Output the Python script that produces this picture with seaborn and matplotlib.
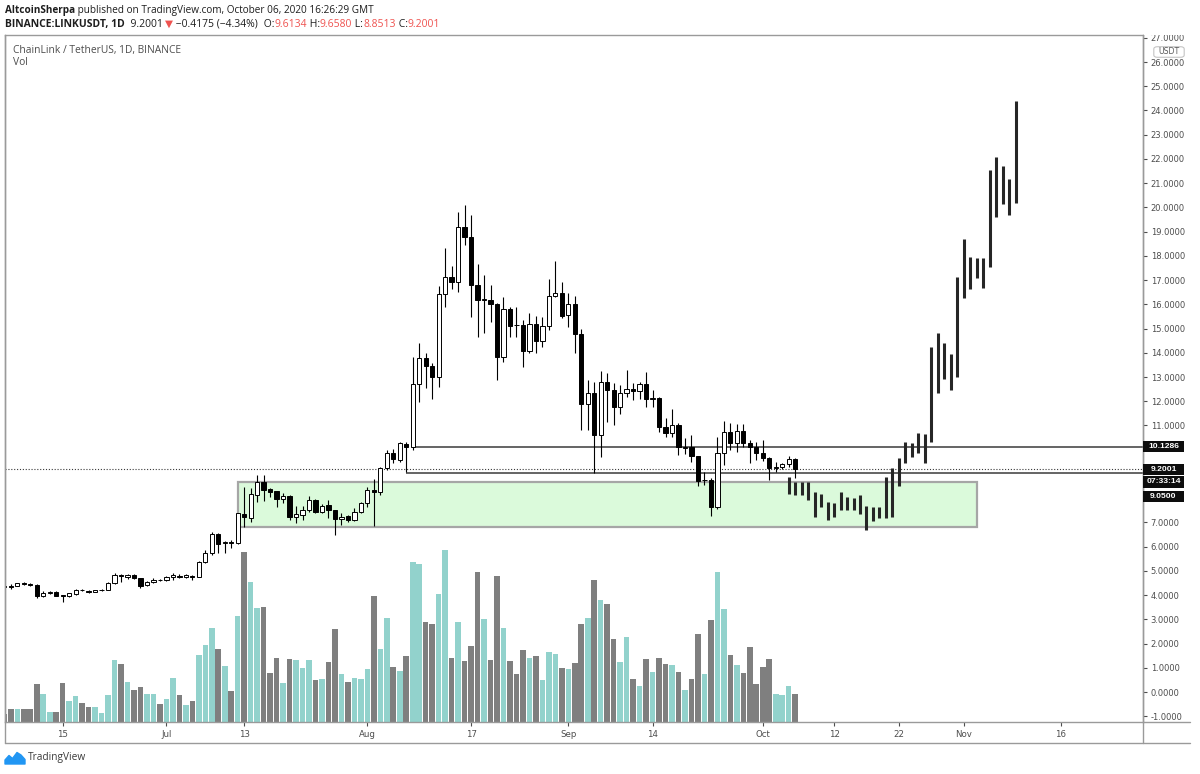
import matplotlib
matplotlib.use("Agg")
import numpy as np
import pandas as pd
import matplotlib.pyplot as plt
import matplotlib.dates as mdates
from matplotlib.patches import Rectangle, FancyBboxPatch, Polygon
from matplotlib.lines import Line2D
import seaborn as sns

# ---------------------------------------------------------------- data
first_day = "2020-06-06"          # first daily candle (Jun 6 .. Oct 6)

opens = [
    # Jun 6-30
    4.37, 4.36, 4.38, 4.47, 4.45, 4.43, 3.97, 4.10, 4.12, 3.98, 3.97, 4.05, 4.22, 4.15, 4.13, 4.20, 4.21, 4.49, 4.80, 4.74, 4.83, 4.70, 4.40, 4.53, 4.63,
    # Jul
    4.61, 4.74, 4.80, 4.74, 4.80, 4.76, 5.38, 5.72, 6.52, 6.14, 6.19, 6.16, 7.35, 7.20, 8.15, 8.68, 8.36, 8.28, 7.97, 8.09, 7.24, 7.30, 7.51, 7.92, 7.44, 7.72, 7.51, 7.13, 7.26, 7.10, 7.44,
    # Aug
    7.81, 8.34, 8.27, 9.23, 9.88, 9.58, 10.24, 10.13, 12.70, 13.77, 13.45, 13.01, 16.43, 17.14, 16.93, 19.20, 18.79, 16.80, 16.17, 16.18, 16.02, 13.84, 15.81, 15.16, 15.13, 14.09, 15.19, 14.50, 15.11, 16.34, 16.48,
    # Sep
    15.56, 16.00, 14.78, 11.89, 12.35, 10.61, 12.81, 12.46, 11.75, 12.33, 12.49, 12.44, 12.71, 12.08, 12.15, 10.95, 10.70, 11.02, 10.09, 10.10, 9.74, 8.74, 8.75, 7.62, 9.88, 10.72, 10.29, 10.78, 10.29, 10.12,
    # Oct 1-6
    9.88, 9.65, 9.26, 9.27, 9.40, 9.6134,
]
highs = [
    4.40, 4.44, 4.50, 4.52, 4.50, 4.47, 4.15, 4.16, 4.15, 4.02, 4.10, 4.25, 4.27, 4.20, 4.23, 4.25, 4.52, 4.92, 4.87, 4.87, 4.86, 4.72, 4.58, 4.70, 4.66,
    4.79, 4.90, 4.85, 4.85, 4.82, 5.42, 5.86, 6.62, 6.55, 6.22, 6.27, 7.40, 8.45, 8.41, 8.96, 8.96, 8.40, 8.30, 8.20, 8.12, 7.68, 7.68, 8.09, 7.95, 7.75, 7.92, 7.53, 7.37, 7.30, 7.58, 7.85,
    8.47, 8.78, 9.30, 9.98, 10.02, 10.30, 10.30, 13.84, 14.42, 13.98, 13.57, 16.76, 18.31, 17.58, 19.82, 20.10, 19.69, 17.66, 17.21, 16.80, 16.05, 16.29, 15.90, 15.88, 15.35, 15.66, 15.52, 15.49, 17.03, 17.80, 16.93,
    16.45, 16.34, 14.97, 12.88, 12.81, 13.26, 13.18, 12.74, 12.67, 13.29, 12.74, 12.81, 13.22, 12.46, 12.19, 11.30, 11.67, 11.09, 10.47, 10.61, 9.75, 9.09, 8.82, 10.51, 11.20, 11.09, 11.06, 11.06, 10.40, 10.33,
    10.40, 9.71, 9.50, 9.45, 9.74, 9.6580,
]
lows = [
    4.32, 4.27, 4.36, 4.40, 4.39, 3.90, 3.93, 4.06, 3.95, 3.73, 3.94, 4.02, 4.15, 4.08, 4.11, 4.17, 4.19, 4.45, 4.55, 4.68, 4.66, 4.30, 4.36, 4.48, 4.57,
    4.58, 4.62, 4.70, 4.71, 4.62, 4.74, 5.31, 5.65, 5.72, 5.72, 5.93, 6.10, 6.82, 7.03, 7.85, 7.90, 8.06, 7.65, 7.79, 7.10, 6.96, 7.10, 7.44, 7.40, 7.40, 7.17, 6.48, 6.89, 7.03, 7.05, 7.40,
    7.62, 6.85, 8.13, 9.15, 9.45, 9.50, 9.07, 9.99, 11.98, 12.53, 12.08, 12.60, 15.90, 16.62, 16.52, 18.45, 15.49, 14.66, 14.83, 15.28, 12.88, 13.63, 14.66, 14.66, 13.43, 13.98, 13.98, 14.23, 14.94, 16.30, 15.42,
    15.05, 13.98, 10.81, 10.81, 9.05, 9.71, 11.16, 11.02, 11.47, 12.19, 12.05, 12.08, 11.77, 11.77, 10.74, 10.51, 10.51, 9.78, 9.82, 9.50, 8.50, 8.54, 7.28, 7.54, 9.37, 9.99, 9.92, 10.12, 9.46, 9.57,
    9.55, 8.75, 9.09, 9.22, 9.27, 8.8513,
]
closes = [
    4.35, 4.35, 4.48, 4.45, 4.43, 3.97, 4.10, 4.12, 3.98, 3.97, 4.08, 4.20, 4.20, 4.13, 4.20, 4.21, 4.49, 4.83, 4.78, 4.83, 4.70, 4.38, 4.53, 4.64, 4.61,
    4.75, 4.83, 4.74, 4.82, 4.76, 5.38, 5.72, 6.52, 6.11, 6.20, 6.17, 7.37, 7.21, 8.17, 8.68, 8.34, 8.27, 7.95, 8.09, 7.21, 7.34, 7.51, 7.92, 7.44, 7.68, 7.51, 7.13, 7.24, 7.10, 7.44, 7.81,
    8.34, 8.27, 9.23, 9.88, 9.62, 10.26, 10.13, 12.70, 13.77, 13.45, 13.01, 16.43, 17.14, 16.93, 19.20, 18.79, 16.80, 16.18, 16.19, 16.02, 13.84, 15.81, 15.11, 15.13, 14.09, 15.19, 14.50, 15.11, 16.34, 16.45, 15.52,
    16.00, 14.78, 11.89, 12.35, 10.61, 12.81, 12.46, 11.75, 12.33, 12.49, 12.44, 12.71, 12.08, 12.15, 10.95, 10.70, 11.02, 10.10, 10.11, 9.74, 8.72, 8.76, 7.62, 9.88, 10.72, 10.29, 10.78, 10.26, 10.12, 9.85,
    9.65, 9.23, 9.28, 9.40, 9.61, 9.2001,
]
volumes = [  # relative volume (bar heights as read)
    8.3, 12.7, 12.7, 13.3, 13.3, 37.7, 27.7, 10.3, 10.3, 39.3, 21.0, 25.7, 19.3, 14.7, 14.7, 8.7, 26.7, 61.7, 58.3, 40.0, 31.7, 35.0, 27.7, 27.7, 17.7,
    23.3, 43.7, 26.7, 17.0, 21.0, 67.3, 77.0, 93.7, 73.3, 55.7, 31.0, 105.7, 170.3, 139.7, 114.3, 115.0, 49.3, 64.3, 39.3, 62.7, 61.7, 54.0, 61.7, 41.7, 42.7, 60.0, 92.7, 48.3, 40.0, 43.7, 42.7,
    52.7, 125.7, 72.7, 103.7, 55.0, 50.7, 65.7, 159.7, 157.7, 100.3, 97.7, 128.3, 171.7, 64.0, 100.3, 60.7, 75.7, 150.3, 102.7, 62.3, 145.7, 93.7, 60.7, 48.3, 72.3, 64.0, 65.7, 41.7, 69.7, 68.0, 54.3,
    52.7, 59.0, 97.7, 104.3, 142.3, 121.7, 118.3, 83.0, 60.0, 84.7, 42.7, 36.0, 62.7, 50.0, 64.0, 58.3, 57.3, 50.0, 31.7, 42.7, 87.7, 47.7, 101.7, 149.7, 112.7, 67.3, 56.7, 49.3, 74.7, 38.3,
    55.0, 63.3, 27.7, 26.7, 36.0, 27.7,
]

# projected path (bars pattern), Oct 5 .. Nov 9
proj_first_day = "2020-10-05"
proj_high = [8.86, 8.68, 8.68, 8.68, 8.27, 8.17, 7.85, 7.81, 8.27, 8.06, 7.99, 8.13, 7.68, 7.62, 7.62, 8.88, 9.23, 9.64,
             10.33, 10.26, 10.68, 10.65, 14.25, 14.80, 14.42, 13.94, 17.14, 18.68, 17.94, 17.90, 17.90, 21.54, 22.09, 21.71, 21.17, 24.40]
proj_low = [8.17, 8.13, 8.13, 7.92, 7.24, 7.62, 7.10, 7.24, 7.51, 7.51, 7.51, 7.35, 6.69, 7.07, 7.17, 7.17, 7.24, 8.50,
            9.46, 9.71, 9.85, 9.44, 10.33, 12.35, 12.90, 12.46, 12.98, 16.25, 16.62, 17.07, 16.66, 17.55, 19.62, 20.14, 19.69, 20.19]

level_top = 10.1286
level_top_from = "2020-08-08"
level_last = 9.2001
level_low = 9.05
level_low_from = "2020-08-07"
zone_from, zone_to = "2020-07-12", "2020-11-03"
zone_low, zone_high = 6.80, 8.68

tick_dates = ["2020-06-15", "2020-07-01", "2020-07-13", "2020-08-01", "2020-08-17", "2020-09-01",
              "2020-09-14", "2020-10-01", "2020-10-12", "2020-10-22", "2020-11-01", "2020-11-16"]
tick_labels = ["15", "Jul", "13", "Aug", "17", "Sep", "14", "Oct", "12", "22", "Nov", "16"]
price_ticks = [-1, 0, 1, 2, 3, 4, 5, 6, 7, 11, 12, 13, 14, 15, 16, 17, 18, 19, 20, 21, 22, 23, 24, 25, 26, 27]
countdown = "07:33:14"

# ---------------------------------------------------------------- style
sns.set_theme(style="white")
plt.rcParams["font.family"] = ["DejaVu Sans"]

W, H = 1200, 774
fig = plt.figure(figsize=(W / 100, H / 100), dpi=100, facecolor="white")


def fx(px):
    return px / W


def fy(py):
    return 1 - py / H


PL, PR, PT, PB = 5, 1143, 35, 722
ax = fig.add_axes([fx(PL), fy(PB), (PR - PL) / W, (PB - PT) / H])
axv = ax.twinx()

opens = np.array(opens); highs = np.array(highs); lows = np.array(lows); closes = np.array(closes)
dates = pd.date_range(first_day, periods=len(opens), freq="D")
xs = mdates.date2num(dates)
pdates = pd.date_range(proj_first_day, periods=len(proj_high), freq="D")
pxs = mdates.date2num(pdates)
up = closes >= opens

# ---- volume (seaborn), one call per direction
vol_df = pd.DataFrame({"x": xs, "vol": volumes, "up": up})
for is_up, col in [(True, "#92d2cc"), (False, "#7f7f7f")]:
    sub = vol_df[vol_df["up"] == is_up]
    sns.barplot(data=sub, x="x", y="vol", color=col, native_scale=True, width=0.86,
                errorbar=None, saturation=1, linewidth=0, ax=axv)
axv.set_ylim(0, PB - PT)
axv.set_axis_off()

ax.set_zorder(axv.get_zorder() + 1)
ax.patch.set_visible(False)

# ---- zone box
z0, z1 = mdates.date2num(pd.Timestamp(zone_from)), mdates.date2num(pd.Timestamp(zone_to))
ax.add_patch(Rectangle((z0, zone_low), z1 - z0, zone_high - zone_low, facecolor="#dbfadb",
                       edgecolor="#a6a6a6", lw=1.6, zorder=1))

# ---- limits
x_ref = mdates.date2num(pd.Timestamp("2020-06-15"))
xmin, xmax = x_ref - 8.90, x_ref + 166.66
ax.set_xlim(xmin, xmax)
ax.set_ylim(-1.238, 27.115)

# ---- levels
ax.axhline(level_last, color="#3a3a3a", lw=0.8, ls=(0, (1, 1.6)), zorder=2)
ax.hlines(level_top, mdates.date2num(pd.Timestamp(level_top_from)), xmax, color="#4a4a4a", lw=1.2, zorder=2)
ax.hlines(level_low, mdates.date2num(pd.Timestamp(level_low_from)), xmax, color="#4a4a4a", lw=1.2, zorder=2)

# ---- candles
ax.vlines(xs, lows, highs, color="black", lw=0.8, zorder=3)
body_lo = np.minimum(opens, closes)
body_h = np.maximum(np.abs(closes - opens), 0.03)
ax.bar(xs, body_h, bottom=body_lo, width=0.66, color=np.where(up, "white", "black"),
       edgecolor="black", linewidth=0.7, zorder=4)

# ---- projection bars
ax.vlines(pxs, proj_low, proj_high, color="#262626", lw=2.2, zorder=5)

# ---- axes cosmetics
for s in ax.spines.values():
    s.set_color("#9a9a9a")
    s.set_linewidth(1.0)
ax.grid(False)
ax.yaxis.tick_right()
ax.set_yticks(price_ticks)
ax.set_yticklabels([f"{v:.4f}" for v in price_ticks])
ax.tick_params(axis="y", which="major", right=True, left=False, direction="out", length=3, width=0.8,
               pad=2.5, labelsize=6, colors="#4d4d4d")
ax.set_xticks(mdates.date2num(pd.to_datetime(tick_dates)))
ax.set_xticklabels(tick_labels)
ax.tick_params(axis="x", which="major", bottom=True, direction="out", length=3, width=0.8,
               pad=3, labelsize=6.2, colors="#4d4d4d")
ax.set_xlabel("")
ax.set_ylabel("")

# ---------------------------------------------------------------- frame
def fline(xa, ya, **kw):
    fig.add_artist(Line2D([fx(v) for v in xa], [fy(v) for v in ya], transform=fig.transFigure, **kw))

frame_kw = dict(color="#9a9a9a", lw=1.0, zorder=5)
fline([PL, PL], [PT, 743], **frame_kw)
fline([PL, 1190], [743, 743], **frame_kw)
fline([PR, PR], [PT, 743], **frame_kw)
fline([PR, 1190], [PB, PB], **frame_kw)

# mask clipped top label
fig.add_artist(Rectangle((fx(1144), fy(35)), fx(56), 16 / H, transform=fig.transFigure,
                         facecolor="white", edgecolor="none", zorder=4))
# USDT badge
fig.add_artist(FancyBboxPatch((fx(1155), fy(56.5)), 28 / W, 9 / H, boxstyle="round,pad=0.001,rounding_size=0.003",
                              transform=fig.transFigure, facecolor="white", edgecolor="#c4c4c4", lw=0.8, zorder=6))
fig.text(fx(1169), fy(52.0), "USDT", fontsize=5.6, color="#5a5a5a", ha="center", va="center", zorder=7)

# ---------------------------------------------------------------- price labels
fig.canvas.draw()
renderer = fig.canvas.get_renderer()


def ypx(val):
    return H - ax.transData.transform((xmin, val))[1]


def price_badge(yc, text, hh=11):
    fig.add_artist(Rectangle((fx(PR), fy(yc + hh / 2)), 41 / W, hh / H, transform=fig.transFigure,
                             facecolor="#0d0d0d", edgecolor="none", zorder=8))
    fig.text(fx(1163.5), fy(yc), text, fontsize=6.1, color="white", fontweight="bold",
             ha="center", va="center", zorder=9, family=["Liberation Sans", "DejaVu Sans"])


y_top = ypx(level_top)
y_last = ypx(level_last)
price_badge(y_top, f"{level_top:.4f}")
price_badge(y_last + 0.5, f"{level_last:.4f}", hh=11)
price_badge(y_last + 12.5, countdown, hh=12)
price_badge(y_last + 27, f"{level_low:.4f}", hh=11)

# ---------------------------------------------------------------- header texts
HEAD_FAM = ["Open Sans", "DejaVu Sans"]


def draw_seq(x, y, pieces, size, family):
    texts = []
    for s, color, weight in pieces:
        t = fig.text(fx(x), fy(y), s, color=color, fontsize=size, fontweight=weight,
                     ha="left", va="center", family=family)
        x += t.get_window_extent(renderer).width
        texts.append(t)
    return texts, x


def fit_seq(x, y, pieces, target, family, s0=7.0):
    texts, end = draw_seq(x, y, pieces, s0, family)
    for t in texts:
        t.remove()
    size = s0 * target / (end - x)
    draw_seq(x, y, pieces, size, family)
    return size


dark = "#1e1e1e"
red = "#ef5350"
line1 = [("AltcoinSherpa", dark, "bold"),
         (" published on TradingView.com, October 06, 2020 16:26:29 GMT", dark, "normal")]
hsize = fit_seq(5, 10, line1, 368, HEAD_FAM)

line2 = [("BINANCE:LINKUSDT, 1D", dark, "bold"), ("  9.2001 ", dark, "normal"), ("▼", red, "normal"),
         (" −0.4175 (−4.34%) ", dark, "normal"), (" O:", dark, "normal"), ("9.6134", red, "normal"),
         (" H:", dark, "normal"), ("9.6580", red, "normal"), (" L:", dark, "normal"), ("8.8513", red, "normal"),
         (" C:", dark, "normal"), ("9.2001", red, "normal")]
draw_seq(5, 24.5, line2, hsize * 1.04, HEAD_FAM)

tsize = fit_seq(12.7, 50, [("ChainLink / TetherUS, 1D, BINANCE", "#4d4d4d", "normal")], 169, HEAD_FAM)
draw_seq(12.7, 62.7, [("Vol", "#4d4d4d", "normal")], tsize, HEAD_FAM)

# ---------------------------------------------------------------- TradingView footer
logo = [(5, 764), (5, 760), (9, 755.5), (12.5, 758.5), (17, 752.5), (21, 755), (25, 759.5), (25, 764)]
fig.add_artist(Polygon([(fx(a), fy(b)) for a, b in logo], closed=True, transform=fig.transFigure,
                       facecolor="#2196f3", edgecolor="#2196f3", lw=1.0, joinstyle="round", zorder=6))
fit_seq(28, 757.5, [("TradingView", "#3a3a3a", "normal")], 58, HEAD_FAM)

fig.savefig("out.png", dpi=100, facecolor="white")
